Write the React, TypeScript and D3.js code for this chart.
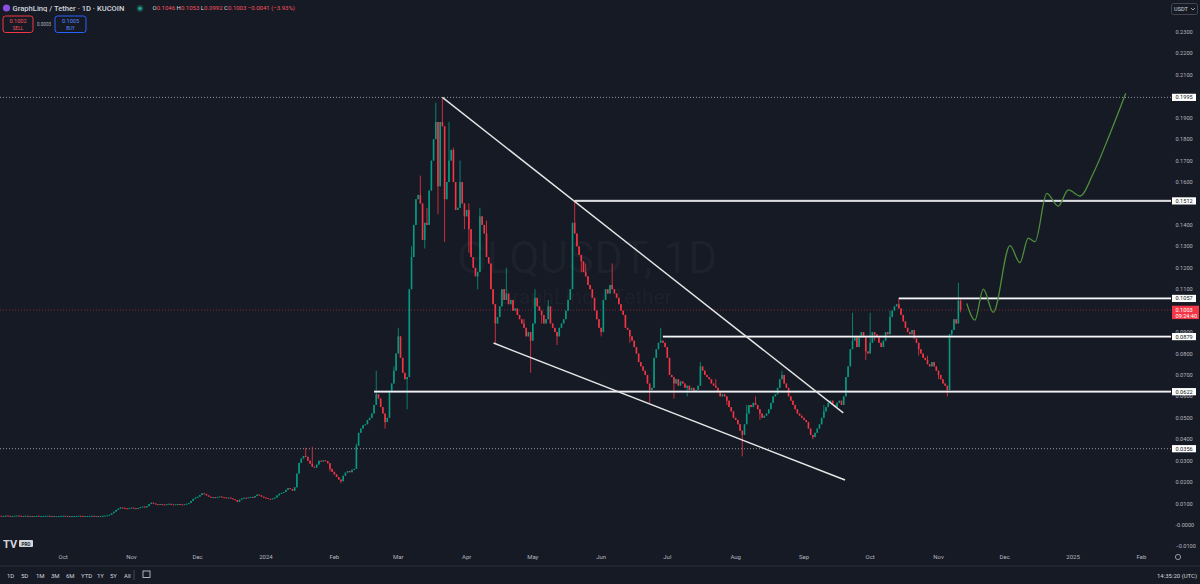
import React from 'react'
import * as d3 from 'd3'

// GLQ/USDT daily candles, KuCoin. Prices are in pips (1 pip = 0.0001 USDT).
// First close is 2023-09-02, i.e. day -121 counted from 2024-01-01.
const FIRST_DAY = -121
const closes = [
  43, 42, 42, 44, 43, 42, 42, 43, 44, 43,
  42, 42, 43, 42, 42, 41, 42, 43, 42, 42,
  42, 43, 43, 42, 42, 41, 41, 42, 42, 43,
  42, 42, 41, 42, 42, 42, 43, 42, 41, 42,
  42, 42, 43, 42, 42, 41, 42, 43, 44, 45,
  48, 55, 62, 70, 76, 82, 80, 78, 76, 79,
  81, 78, 76, 79, 83, 86, 82, 88, 98, 104,
  100, 97, 95, 98, 96, 94, 97, 99, 96, 95,
  97, 98, 96, 95, 97, 99, 103, 112, 122, 128,
  132, 140, 148, 145, 138, 132, 128, 130, 127, 131,
  133, 130, 128, 126, 128, 124, 120, 116, 108, 118,
  124, 127, 126, 129, 131, 128, 135, 142, 138, 132,
  128, 126, 122, 120, 124, 128, 138, 146, 150, 154,
  164, 172, 168, 160, 176, 240, 290, 310, 322, 318,
  300, 286, 272, 268, 282, 300, 296, 302, 298, 288,
  262, 248, 236, 224, 212, 204, 230, 244, 252, 246,
  258, 262, 370, 430, 450, 466, 470, 490, 500, 520,
  560, 610, 590, 550, 520, 480, 500, 620, 660, 720,
  800, 880, 780, 710, 680, 690, 1100, 1250, 1400, 1520,
  1540, 1500, 1330, 1410, 1400, 1560, 1700, 1800, 1880, 1580,
  1880, 1860, 1520, 1600, 1700, 1750, 1600, 1470, 1480, 1600,
  1500, 1440, 1470, 1380, 1250, 1200, 1160, 1180, 1440, 1400,
  1360, 1250, 1220, 1100, 1030, 940, 970, 1020, 1100, 1050,
  1080, 1030, 1050, 1000, 1010, 980, 960, 940, 920, 880,
  900, 860, 940, 1060, 1020, 1000, 980, 940, 960, 1020,
  940, 920, 900, 880, 920, 940, 960, 1000, 1050, 1100,
  1410, 1360, 1300, 1260, 1230, 1180, 1160, 1120, 1100, 1060,
  1000, 960, 920, 900, 1050, 1100, 1080, 1120, 1100, 1080,
  1060, 1030, 1000, 980, 920, 910, 880, 860, 830, 800,
  760, 740, 720, 700, 660, 630, 640, 780, 820, 850,
  860, 850, 830, 780, 700, 690, 660, 680, 650, 670,
  660, 640, 650, 630, 640, 620, 630, 650, 740, 720,
  700, 690, 680, 660, 650, 640, 620, 600, 610, 600,
  580, 550, 530, 500, 490, 470, 440, 420, 470, 520,
  560, 550, 570, 560, 540, 520, 500, 510, 520, 540,
  570, 600, 610, 640, 680, 700, 660, 640, 600, 580,
  560, 540, 520, 510, 500, 490, 480, 450, 420, 410,
  430, 450, 470, 500, 530, 550, 570, 580, 560, 550,
  570, 580, 560, 600, 690, 740, 820, 860, 880, 830,
  880, 900, 880, 810, 800, 850, 900, 890, 880, 850,
  830, 860, 900, 890, 970, 1000, 1020, 1030, 1010, 980,
  950, 920, 900, 890, 910, 870, 850, 820, 800, 780,
  770, 750, 740, 760, 740, 720, 700, 680, 660, 650,
  630, 890, 910, 960, 940, 1046, 1003,
]

// visible wicks: [day from 2024-01-01, pips]
const wickHighs = [
  [18, 360], [21, 365], [41, 380], [50, 720], [58, 740], [60, 920], [66, 1300],
  [70, 1630], [73, 1480], [77, 1970], [80, 1995], [83, 1880], [85, 1760],
  [88, 1700], [92, 1500], [97, 1480], [100, 1420], [109, 1200], [117, 960],
  [122, 1100], [128, 1050], [140, 1516], [145, 1220], [157, 1220], [179, 920],
  [197, 760], [204, 680], [218, 560], [222, 600], [234, 720], [253, 560],
  [266, 990], [274, 990], [283, 1000], [287, 1057], [300, 790], [314, 1130],
  [315, 1053],
]
const wickLows = [
  [29, 250], [34, 195], [54, 450], [64, 540], [72, 1290], [78, 1450], [81, 1320],
  [90, 1380], [92, 1270], [96, 1100], [104, 850], [120, 710], [125, 940],
  [132, 840], [143, 1180], [152, 880], [165, 850], [174, 570], [185, 590],
  [191, 600], [209, 560], [216, 320], [224, 490], [248, 400], [272, 770],
  [276, 860], [296, 790], [305, 680], [309, 600], [311, 880], [315, 992],
]

// drawings
const levelPrices = [0.1512, 0.1057, 0.0879, 0.0622]
const levelStartDays = [140, 287, 180, 49]
const dottedLevels = [0.1995, 0.0356]
const lastPrice = 0.1003
const upperTrend = [[80, 0.1995], [261.8, 0.0523]]
const lowerTrend = [[103.2, 0.0849], [262.6, 0.021]]
const projection = [
  [317.8, 0.1034], [321.5, 0.0956], [325.3, 0.11], [329.8, 0.0992],
  [337.4, 0.1303], [341.9, 0.1224], [345.7, 0.1338], [348.8, 0.1322],
  [354.1, 0.1547], [359.3, 0.1488], [363.9, 0.1563], [369.2, 0.1535],
  [375.2, 0.1641], [382.8, 0.1827], [389.9, 0.2014],
]

const priceTicks = d3.range(23, -2, -1).map(v => v / 100)
const priceTickLabels = priceTicks.map(v => (v === 0 ? '-0.0000' : d3.format('.4f')(v)))
const toolbarItems = ['1D', '5D', '1M', '3M', '6M', 'YTD', '1Y', '5Y', 'All']

const W = 1200
const H = 584
const PANE_R = 1171
const FONT = 'Roboto, "Noto Sans", sans-serif'
const BG = '#161a25'
const UP = '#089981'
const DOWN = '#f23645'
const TEXT = '#d1d4dc'
const AXIS_TEXT = '#b2b5be'

const dayDate = (d: number) => new Date(Date.UTC(2024, 0, 1) + d * 864e5)

const x = d3.scaleUtc()
  .domain([dayDate(0), new Date(Date.UTC(2025, 1, 1))])
  .range([266, 266 + 2.205 * 397])
const y = d3.scaleLinear().domain([0, 0.23]).range([525, 32])

export default function App() {
  const highMap = new Map(wickHighs.map(([d, v]) => [d, v]))
  const lowMap = new Map(wickLows.map(([d, v]) => [d, v]))

  const candles = closes.map((c, i) => {
    const d = FIRST_DAY + i
    const o = i === 0 ? c : closes[i - 1]
    const h = Math.max(highMap.get(d) ?? 0, o, c)
    const l = Math.min(lowMap.get(d) ?? Infinity, o, c)
    return { d, o: o / 1e4, c: c / 1e4, h: h / 1e4, l: l / 1e4 }
  })

  const monthTicks = d3.utcMonth.range(new Date(Date.UTC(2023, 9, 1)), new Date(Date.UTC(2025, 2, 1)))
  const monthLabel = (t: Date) => (t.getUTCMonth() === 0 ? String(t.getUTCFullYear()) : d3.utcFormat('%b')(t))

  const line = d3.line<number[]>().x(p => x(dayDate(p[0]))).y(p => y(p[1]))
  const projLine = d3.line<number[]>()
    .x(p => x(dayDate(p[0])))
    .y(p => y(p[1]))
    .curve(d3.curveMonotoneX)

  // axis labels hidden behind the level boxes
  const boxed = [...dottedLevels, ...levelPrices, lastPrice]
  const hiddenTick = (p: number) => boxed.some(b => Math.abs(y(b) - y(p)) < 4)

  const labelBox = (p: number, key: string) => (
    <g key={key}>
      <rect x={1172} y={y(p) - 3.6} width={24} height={7.2} fill="#ffffff" />
      <text x={1175.5} y={y(p) + 2} fontSize={5.6} fill="#131722">{p.toFixed(4)}</text>
    </g>
  )

  return (
    <svg width={W} height={H} style={{ position: 'fixed', left: 0, top: 0, display: 'block' }} fontFamily={FONT}>
      <rect width={W} height={H} fill={BG} />

      {/* watermark */}
      <text x={587} y={273} textAnchor="middle" fontSize={44} fill="#ffffff" fillOpacity={0.035}>GLQUSDT, 1D</text>
      <text x={585} y={304} textAnchor="middle" fontSize={21} fill="#ffffff" fillOpacity={0.035}>GraphLinq / Tether</text>

      {/* dotted levels */}
      {dottedLevels.map(p => (
        <line key={p} x1={0} x2={PANE_R} y1={y(p)} y2={y(p)} stroke="#9598a1" strokeWidth={1} strokeDasharray="1 2" />
      ))}
      <line x1={0} x2={PANE_R} y1={y(lastPrice)} y2={y(lastPrice)} stroke={DOWN} strokeOpacity={0.5} strokeWidth={1} strokeDasharray="1 2" />

      {/* candles */}
      <g>
        {candles.map(k => {
          const cx = x(dayDate(k.d))
          const up = k.c >= k.o
          const col = up ? UP : DOWN
          const top = y(Math.max(k.o, k.c))
          const bh = Math.max(1, Math.abs(y(k.o) - y(k.c)))
          return (
            <g key={k.d}>
              <line x1={cx} x2={cx} y1={y(k.h)} y2={y(k.l)} stroke={col} strokeWidth={0.8} />
              <rect x={cx - 0.8} y={top} width={1.6} height={bh} fill={col} />
            </g>
          )
        })}
      </g>

      {/* horizontal levels */}
      {levelPrices.map((p, i) => (
        <g key={p}>
          <line x1={x(dayDate(levelStartDays[i]))} x2={PANE_R} y1={y(p)} y2={y(p)} stroke="#a3a6af" strokeWidth={2.2} />
          <line x1={x(dayDate(levelStartDays[i]))} x2={PANE_R} y1={y(p)} y2={y(p)} stroke="#ffffff" strokeWidth={1} />
        </g>
      ))}

      {/* trendlines */}
      <path d={line(upperTrend) ?? ''} stroke="#e6e6e6" strokeWidth={1.4} fill="none" />
      <path d={line(lowerTrend) ?? ''} stroke="#e6e6e6" strokeWidth={1.4} fill="none" />

      {/* projection */}
      <path d={projLine(projection) ?? ''} stroke="#4f8f3c" strokeWidth={1.3} fill="none" />

      {/* price axis */}
      {priceTicks.map((p, i) => (hiddenTick(p) ? null : (
        <text key={p} x={1175.5} y={y(p) + 2} fontSize={5.6} fill={AXIS_TEXT}>{priceTickLabels[i]}</text>
      )))}
      {dottedLevels.map(p => labelBox(p, 'd' + p))}
      {levelPrices.map(p => labelBox(p, 'l' + p))}
      <rect x={1172} y={y(lastPrice) - 4.3} width={27} height={13.4} fill={DOWN} />
      <text x={1175.5} y={y(lastPrice) + 1.8} fontSize={5.6} fill="#ffffff">{lastPrice.toFixed(4)}</text>
      <text x={1175.5} y={y(lastPrice) + 8.3} fontSize={5.6} fill="#ffffff">09:24:40</text>

      <rect x={1171.5} y={3.5} width={26} height={11} rx={2} fill="none" stroke="#434651" />
      <text x={1174} y={11} fontSize={5.6} fill={TEXT}>USDT</text>
      <path d="M1191 8 l2 2 l2 -2" stroke={TEXT} strokeWidth={0.7} fill="none" />
      <circle cx={1178} cy={557} r={2.6} fill="none" stroke={AXIS_TEXT} strokeWidth={0.8} />

      {/* time axis */}
      {monthTicks.filter(t => x(t) > 20 && x(t) < 1160).map(t => (
        <text key={t.getTime()} x={x(t)} y={559} textAnchor="middle" fontSize={6} fill={AXIS_TEXT}>{monthLabel(t)}</text>
      ))}
      <line x1={0} x2={W} y1={566} y2={566} stroke="#2a2e39" />

      {/* bottom toolbar */}
      {toolbarItems.map((t, i) => (
        <text key={t} x={[7, 21, 36, 51, 66, 81, 97, 110, 124][i]} y={577.5} fontSize={6} fill={TEXT}>{t}</text>
      ))}
      <line x1={134} x2={134} y1={570} y2={580} stroke="#434651" />
      <rect x={143} y={571} width={7} height={6.5} fill="none" stroke={TEXT} strokeWidth={0.8} />
      <text x={1197} y={577.5} textAnchor="end" fontSize={6} fill={TEXT}>14:35:20 (UTC)</text>

      {/* TV logo */}
      <text x={3} y={548} fontSize={11} fontWeight={700} fill={TEXT}>TV</text>
      <rect x={19} y={540} width={14} height={7} rx={1} fill={TEXT} />
      <text x={26} y={545.5} textAnchor="middle" fontSize={4.5} fontWeight={700} fill={BG}>PRO</text>

      {/* header */}
      <circle cx={6.5} cy={8} r={3.6} fill="#8a4fe0" />
      <text x={12.5} y={10.6} fontSize={7.6} fontWeight={500} fill={TEXT}>GraphLinq / Tether · 1D · KUCOIN</text>
      <circle cx={140} cy={8.5} r={3.4} fill="#22ab94" fillOpacity={0.3} />
      <circle cx={140} cy={8.5} r={1.7} fill="#22ab94" />
      <text x={152.5} y={10.4} fontSize={6} fill={TEXT}>
        O<tspan fill="#f7525f">0.1046</tspan> H<tspan fill="#f7525f">0.1053</tspan> L<tspan fill="#f7525f">0.0992</tspan> C<tspan fill="#f7525f">0.1003 −0.0041 (−3.93%)</tspan>
      </text>

      <rect x={3} y={16} width={30} height={16.5} rx={2.5} fill="none" stroke={DOWN} strokeWidth={1} />
      <text x={18} y={23} textAnchor="middle" fontSize={5.6} fill="#f7525f">0.1002</text>
      <text x={18} y={30} textAnchor="middle" fontSize={4.6} fill="#f7525f">SELL</text>
      <text x={44} y={26} textAnchor="middle" fontSize={4.6} fill={AXIS_TEXT}>0.0003</text>
      <rect x={55} y={16} width={31} height={16.5} rx={2.5} fill="none" stroke="#2962ff" strokeWidth={1} />
      <text x={70.5} y={23} textAnchor="middle" fontSize={5.6} fill="#5b8cff">0.1005</text>
      <text x={70.5} y={30} textAnchor="middle" fontSize={4.6} fill="#5b8cff">BUY</text>
    </svg>
  )
}
